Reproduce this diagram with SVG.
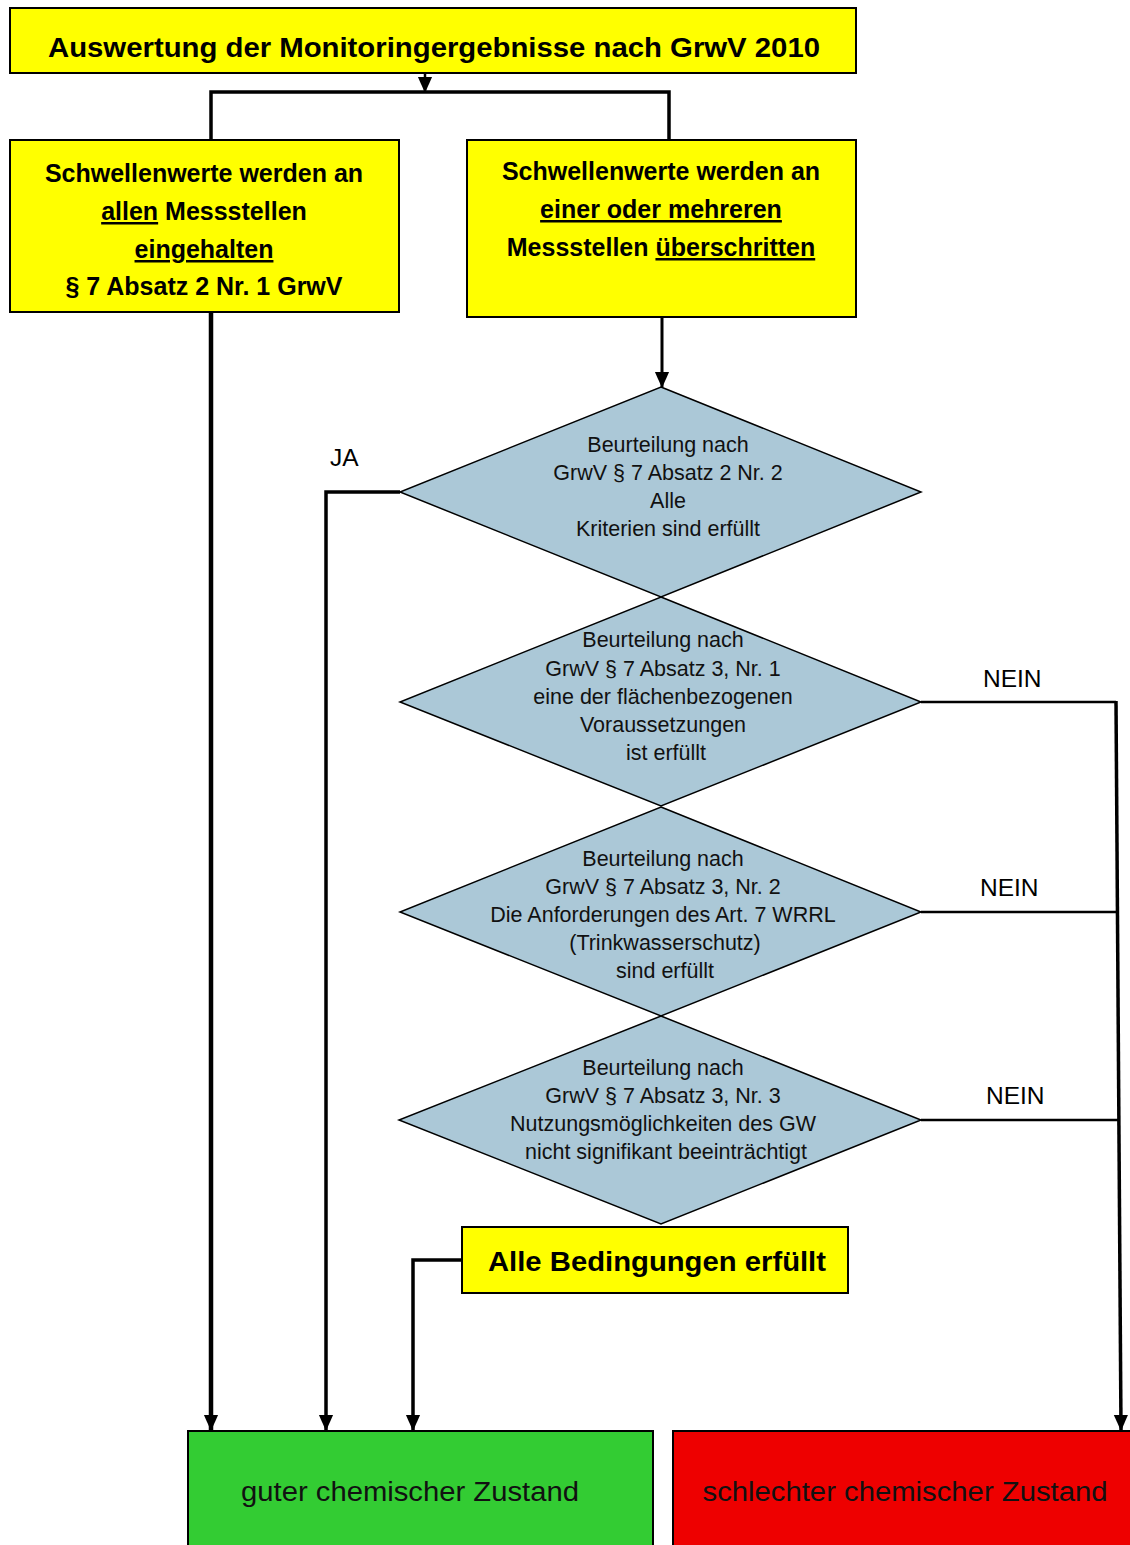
<svg xmlns="http://www.w3.org/2000/svg" width="1130" height="1545" viewBox="0 0 1130 1545">
  <style>
    .box { fill: #ffff00; stroke: #000; stroke-width: 2; }
    .dia { fill: #abc8d7; stroke: #000; stroke-width: 1.5; }
    .bold { font-family: "Liberation Sans", Arial, sans-serif; font-weight: bold; fill: #000; text-anchor: middle; }
    .reg { font-family: "Liberation Sans", Arial, sans-serif; fill: #111; text-anchor: middle; }
    .lbl { font-family: "Liberation Sans", Arial, sans-serif; fill: #000; font-size: 24.5px; }
    .u { text-decoration: underline; }
    .wire { fill: none; stroke: #000; stroke-linejoin: miter; }
  </style>
  <defs>
    <marker id="ah" markerUnits="userSpaceOnUse" markerWidth="16" markerHeight="18" refX="17" refY="8" orient="auto" viewBox="0 0 18 16">
      <path d="M0,0 L18,8 L0,16 Z" fill="#000"/>
    </marker>
  </defs>

  <!-- connectors -->
  <g id="connectors">
    <line class="wire" x1="425" y1="73" x2="425" y2="92" stroke-width="2.5" marker-end="url(#ah)"/>
    <polyline class="wire" points="211,140 211,92 669,92 669,140" stroke-width="3.5"/>
    <line class="wire" x1="211" y1="312" x2="211" y2="1430" stroke-width="4.5" marker-end="url(#ah)"/>
    <line class="wire" x1="662" y1="317" x2="662" y2="387" stroke-width="3" marker-end="url(#ah)"/>
    <polyline class="wire" points="400,492 326,492 326,1430" stroke-width="3.5" marker-end="url(#ah)"/>
    <line class="wire" x1="921" y1="702" x2="1116" y2="702" stroke-width="2.5"/>
    <line class="wire" x1="921" y1="912" x2="1118" y2="912" stroke-width="2.5"/>
    <line class="wire" x1="921" y1="1120" x2="1118" y2="1120" stroke-width="2.5"/>
    <line class="wire" x1="1116" y1="701" x2="1121" y2="1430" stroke-width="3.5" marker-end="url(#ah)"/>
    <polyline class="wire" points="462,1260 413,1260 413,1430" stroke-width="3.5" marker-end="url(#ah)"/>
    <text class="lbl" x="330" y="466">JA</text>
    <text class="lbl" x="983" y="687">NEIN</text>
    <text class="lbl" x="980" y="896">NEIN</text>
    <text class="lbl" x="986" y="1104">NEIN</text>
  </g>

  <!-- title -->
  <g id="title">
    <rect class="box" x="10" y="8" width="846" height="65"/>
    <text class="bold" x="434" y="57" font-size="27" textLength="772" lengthAdjust="spacingAndGlyphs">Auswertung der Monitoringergebnisse nach GrwV 2010</text>
  </g>

  <!-- threshold values met everywhere -->
  <g id="eingehalten">
    <rect class="box" x="10" y="140" width="389" height="172"/>
    <g class="bold" font-size="25">
      <text x="204" y="182">Schwellenwerte werden an</text>
      <text x="204" y="220"><tspan class="u">allen</tspan> Messstellen</text>
      <text x="204" y="258" class="u">eingehalten</text>
      <text x="204" y="295">§ 7 Absatz 2 Nr. 1 GrwV</text>
    </g>
  </g>

  <!-- threshold values exceeded -->
  <g id="ueberschritten">
    <rect class="box" x="467" y="140" width="389" height="177"/>
    <g class="bold" font-size="25">
      <text x="661" y="180">Schwellenwerte werden an</text>
      <text x="661" y="218" class="u">einer oder mehreren</text>
      <text x="661" y="256">Messstellen <tspan class="u">überschritten</tspan></text>
    </g>
  </g>

  <!-- decision 1 -->
  <g id="d1">
    <polygon class="dia" points="661,387 921,492 661,597 400,492"/>
    <g class="reg" font-size="21.5">
      <text x="668" y="452">Beurteilung nach</text>
      <text x="668" y="480">GrwV § 7 Absatz 2 Nr. 2</text>
      <text x="668" y="508">Alle</text>
      <text x="668" y="536">Kriterien sind erfüllt</text>
    </g>
  </g>

  <!-- decision 2 -->
  <g id="d2">
    <polygon class="dia" points="661,597 921,702 661,806 400,702"/>
    <g class="reg" font-size="21.5">
      <text x="663" y="647">Beurteilung nach</text>
      <text x="663" y="676">GrwV § 7 Absatz 3, Nr. 1</text>
      <text x="663" y="704">eine der flächenbezogenen</text>
      <text x="663" y="732">Voraussetzungen</text>
      <text x="666" y="760">ist erfüllt</text>
    </g>
  </g>

  <!-- decision 3 -->
  <g id="d3">
    <polygon class="dia" points="661,807 921,912 661,1016 400,912"/>
    <g class="reg" font-size="21.5">
      <text x="663" y="866">Beurteilung nach</text>
      <text x="663" y="894">GrwV § 7 Absatz 3, Nr. 2</text>
      <text x="663" y="922">Die Anforderungen des Art. 7 WRRL</text>
      <text x="665" y="950">(Trinkwasserschutz)</text>
      <text x="665" y="978">sind erfüllt</text>
    </g>
  </g>

  <!-- decision 4 -->
  <g id="d4">
    <polygon class="dia" points="661,1016 921,1120 661,1224 399,1120"/>
    <g class="reg" font-size="21.5">
      <text x="663" y="1075">Beurteilung nach</text>
      <text x="663" y="1103">GrwV § 7 Absatz 3, Nr. 3</text>
      <text x="663" y="1131">Nutzungsmöglichkeiten des GW</text>
      <text x="666" y="1159">nicht signifikant beeinträchtigt</text>
    </g>
  </g>

  <!-- all conditions met -->
  <g id="alle">
    <rect class="box" x="462" y="1227" width="386" height="66"/>
    <text class="bold" x="657" y="1271" font-size="27" textLength="338" lengthAdjust="spacingAndGlyphs">Alle Bedingungen erfüllt</text>
  </g>

  <!-- results -->
  <g id="gut">
    <rect x="188" y="1431" width="465" height="120" fill="#33cc33" stroke="#000" stroke-width="2"/>
    <text class="reg" x="410" y="1501" font-size="27" fill="#000" textLength="338" lengthAdjust="spacingAndGlyphs">guter chemischer Zustand</text>
  </g>
  <g id="schlecht">
    <rect x="673" y="1431" width="470" height="120" fill="#ee0000" stroke="#000" stroke-width="2"/>
    <text class="reg" x="905" y="1501" font-size="27" fill="#000" textLength="405" lengthAdjust="spacingAndGlyphs">schlechter chemischer Zustand</text>
  </g>
</svg>
